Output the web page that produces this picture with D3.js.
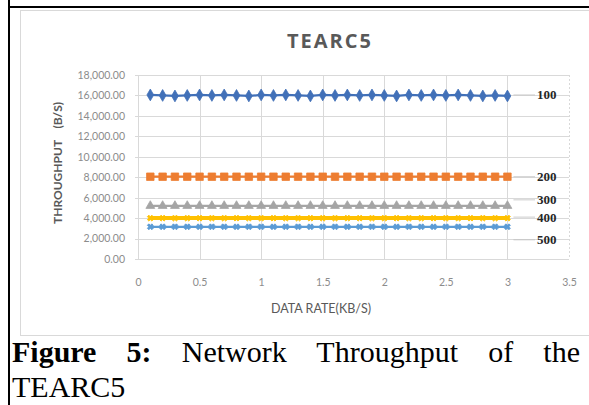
<!DOCTYPE html>
<html><head><meta charset="utf-8">
<script src="https://cdn.jsdelivr.net/npm/d3@7"></script>
<style>
html,body{margin:0;padding:0;background:#fff;width:589px;height:405px;overflow:hidden;position:relative;}
#cap{position:absolute;left:12px;top:334px;width:568px;font-family:"Liberation Serif","Times New Roman",serif;font-size:30px;line-height:35px;color:#000;}
#cap .l1{text-align:justify;text-align-last:justify;}
</style></head><body>
<svg id="c" width="589" height="405" style="position:absolute;left:0;top:0"></svg>
<div id="cap"><div class="l1"><b>Figure 5:</b> Network Throughput of the</div><div>TEARC5</div></div>
<script>
const title = "TEARC5";
const xLabel = "DATA RATE(KB/S)";
const yLabel = "THROUGHPUT    (B/S)";
const xTicks = [0, 0.5, 1, 1.5, 2, 2.5, 3, 3.5];
const yTicks = [0, 2000, 4000, 6000, 8000, 10000, 12000, 14000, 16000, 18000];
const dataRate = [0.1,0.2,0.3,0.4,0.5,0.6,0.7,0.8,0.9,1.0,1.1,1.2,1.3,1.4,1.5,1.6,1.7,1.8,1.9,2.0,2.1,2.2,2.3,2.4,2.5,2.6,2.7,2.8,2.9,3.0];
const seriesNames = ["100","200","300","400","500"];
const s100 = [16050,16000,15950,16000,16050,16000,16050,16000,15950,16050,16000,16050,16000,15950,16050,16000,16050,16000,16050,16000,15950,16050,16000,16050,16000,16050,16000,15950,16000,15950];
const s200 = [8050,8050,8050,8050,8050,8050,8050,8050,8050,8050,8050,8050,8050,8050,8050,8050,8050,8050,8050,8050,8050,8050,8050,8050,8050,8050,8050,8050,8050,8050];
const s300 = [5200,5200,5200,5200,5200,5200,5200,5200,5200,5200,5200,5200,5200,5200,5200,5200,5200,5200,5200,5200,5200,5200,5200,5200,5200,5200,5200,5200,5200,5200];
const s400 = [4000,4000,4000,4000,4000,4000,4000,4000,4000,4000,4000,4000,4000,4000,4000,4000,4000,4000,4000,4000,4000,4000,4000,4000,4000,4000,4000,4000,4000,4000];
const s500 = [3150,3150,3150,3150,3150,3150,3150,3150,3150,3150,3150,3150,3150,3150,3150,3150,3150,3150,3150,3150,3150,3150,3150,3150,3150,3150,3150,3150,3150,3150];
const seriesValues = [s100, s200, s300, s400, s500];

// styles (not data)
const colors = ["#4170b8","#ed7d31","#a5a5a5","#ffc000","#5b9bd5"];
const symbols = [d3.symbolDiamond, d3.symbolSquare, d3.symbolTriangle, d3.symbolCross, d3.symbolCross];
const symSize = [40, 56, 34, 22, 22];
const labelNudge = [-1, 0, -6, -1, 13];

const svg = d3.select("#c");
// table cell borders
svg.append("line").attr("x1",8).attr("x2",589).attr("y1",7).attr("y2",7).attr("stroke","#000").attr("stroke-width",2);
svg.append("line").attr("x1",9).attr("x2",9).attr("y1",0).attr("y2",405).attr("stroke","#000").attr("stroke-width",2);
// chart frame
svg.append("rect").attr("x",20.5).attr("y",10.5).attr("width",580).attr("height",325).attr("fill","#fff").attr("stroke","#d9d9d9");

const x = d3.scaleLinear().domain([0,3.5]).range([138,569]);
const y = d3.scaleLinear().domain([0,18000]).range([259,75]);

// gridlines
svg.append("g").selectAll("line").data(yTicks).join("line")
  .attr("x1",135).attr("x2",569).attr("y1",d=>Math.round(y(d))+0.5).attr("y2",d=>Math.round(y(d))+0.5)
  .attr("stroke","#d9d9d9").attr("stroke-width",1);
svg.append("g").selectAll("line").data(xTicks).join("line")
  .attr("y1",y(18000)).attr("y2",y(0)).attr("x1",d=>Math.round(x(d))+0.5).attr("x2",d=>Math.round(x(d))+0.5)
  .attr("stroke","#d9d9d9").attr("stroke-width",1).attr("stroke-dasharray",d=>d===3.5?"2,2":null);

// axes (labels only)
const yAxis = d3.axisLeft(y).tickValues(yTicks).tickFormat(d3.format(",.2f")).tickSize(0).tickPadding(12);
const gy = svg.append("g").attr("transform","translate(137,0)").call(yAxis);
gy.select(".domain").remove();
gy.selectAll("text").attr("fill","#8c8c8c").style("font-family","Lato, 'Open Sans', sans-serif").style("font-size","10.5px");
const xAxis = d3.axisBottom(x).tickValues(xTicks).tickFormat(d=>String(d)).tickSize(0).tickPadding(20);
const gx = svg.append("g").attr("transform","translate(0,259)").call(xAxis);
gx.select(".domain").remove();
gx.selectAll("text").attr("fill","#8c8c8c").style("font-family","Lato, 'Open Sans', sans-serif").style("font-size","10.5px");

// title & axis labels
svg.append("text").attr("x",330).attr("y",48).attr("text-anchor","middle")
  .style("font-family","'Open Sans', Lato, sans-serif").style("font-weight","bold").style("font-size","20px")
  .style("letter-spacing","2px").attr("fill","#595959").text(title);
svg.append("text").attr("x",321).attr("y",313).attr("text-anchor","middle")
  .style("font-family","Lato, 'Open Sans', sans-serif").style("font-size","12.5px").attr("fill","#595959").text(xLabel);
svg.append("text").attr("transform","translate(62,163) rotate(-90)").attr("text-anchor","middle")
  .style("font-family","Lato, 'Open Sans', sans-serif").style("font-weight","bold").style("font-size","12px")
  .attr("fill","#595959").attr("xml:space","preserve").style("white-space","pre").text(yLabel);

// series
const line = d3.line().x((d,i)=>x(dataRate[i])).y(d=>y(d));
seriesValues.forEach((vals,k)=>{
  const g = svg.append("g");
  g.append("path").datum(vals).attr("d",line).attr("fill","none").attr("stroke",colors[k]).attr("stroke-width",k===3?4:2.25);
  g.selectAll("path.m").data(vals).join("path").attr("class","m")
    .attr("transform",(d,i)=>`translate(${x(dataRate[i])},${y(d)})` + (k>=3?" rotate(45)":""))
    .attr("d",d3.symbol().type(symbols[k]).size(symSize[k]))
    .attr("fill",colors[k]).attr("stroke",colors[k]).attr("stroke-width",0.8);
  // series label with leader line
  const last = vals[vals.length-1];
  const ly = y(last)+labelNudge[k];
  svg.append("line").attr("x1",x(dataRate[dataRate.length-1])+6).attr("x2",535).attr("y1",ly).attr("y2",ly)
    .attr("stroke","#bfbfbf").attr("stroke-width",0.8);
  svg.append("text").attr("x",537).attr("y",ly+4.5).style("font-family","'Liberation Serif', serif")
    .style("font-weight","bold").style("font-size","13px").attr("fill","#262626").text(seriesNames[k]);
});
</script>
</body></html>
